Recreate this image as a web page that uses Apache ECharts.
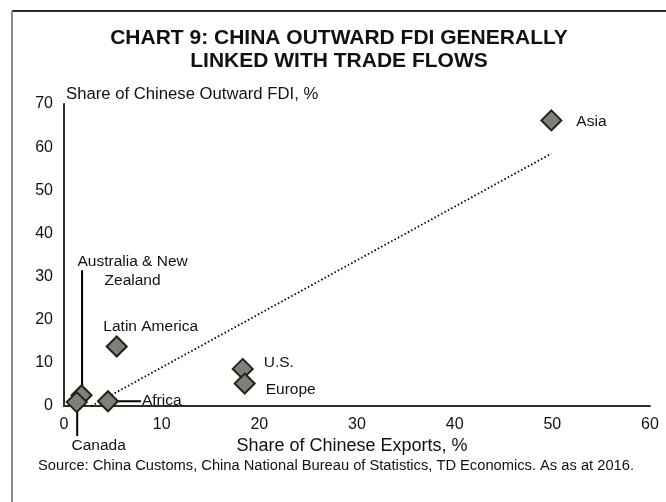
<!DOCTYPE html>
<html>
<head>
<meta charset="utf-8">
<script src="https://cdn.jsdelivr.net/npm/echarts@6/dist/echarts.min.js"></script>
<style>
  html, body { margin: 0; padding: 0; background: #ffffff; }
  #chart { width: 666px; height: 502px; }
</style>
</head>
<body>
<div id="chart"></div>
<script>
// Regions: share of Chinese exports (x) vs share of Chinese outward FDI (y), %
const regions = ['Asia', 'Latin America', 'Australia & New Zealand', 'Canada', 'Africa', 'U.S.', 'Europe'];
const exportShare = [49.9, 5.4, 1.8, 1.3, 4.5, 18.3, 18.5];
const fdiShare = [66.2, 13.8, 2.5, 0.9, 1.1, 8.6, 5.2];

// Dotted trend line end points
const trendExports = [2.8, 49.9];
const trendFdi = [0, 58.5];

// Axis ranges
const xMin = 0, xMax = 60, xStep = 10;
const yMin = 0, yMax = 70, yStep = 10;

const FONT = '"Liberation Sans", Arial, sans-serif';
const INK = '#111111';
const AXIS = '#2b3222';
const MARK = 20; // diamond size in px

// Label placement relative to each marker's centre (pixels)
const labelStyle = {
  'Asia': { text: 'Asia', align: 'left', offset: [26, 2] },
  'Latin America': { text: 'Latin America', align: 'center', offset: [35, -19] },
  'Australia & New Zealand': { text: 'Australia & New\nZealand', align: 'center', offset: [52, -123] },
  'Canada': { text: 'Canada', align: 'center', offset: [23, 45] },
  'Africa': { text: 'Africa', align: 'left', offset: [35, 0] },
  'U.S.': { text: 'U.S.', align: 'left', offset: [22, -5] },
  'Europe': { text: 'Europe', align: 'left', offset: [22, 7] }
};

// Leader lines, given as pixel offsets from the marker centre
const leaders = {
  'Australia & New Zealand': [[0.5, -8], [0.5, -125]],
  'Canada': [[0.5, 4], [0.5, 34]],
  'Africa': [[10, 0], [33, 0]]
};

const points = regions.map((name, i) => {
  const s = labelStyle[name];
  return {
    name: name,
    value: [exportShare[i], fdiShare[i]],
    label: {
      show: true,
      formatter: s.text,
      // anchor at the symbol centre, then shift
      position: [MARK / 2 + s.offset[0], MARK / 2 + s.offset[1]],
      align: s.align,
      verticalAlign: 'middle',
      color: INK,
      fontFamily: FONT,
      fontSize: 15.5,
      lineHeight: 19
    }
  };
});

const chart = echarts.init(document.getElementById('chart'), null, { renderer: 'canvas' });

const option = {
  backgroundColor: '#ffffff',
  animation: false,
  grid: { left: 64, right: 16, top: 104, bottom: 96, containLabel: false },
  xAxis: {
    type: 'value', min: xMin, max: xMax, interval: xStep,
    axisLine: { show: true, onZero: false, lineStyle: { color: AXIS, width: 2 } },
    axisTick: { show: false },
    splitLine: { show: false },
    axisLabel: { color: INK, fontFamily: FONT, fontSize: 16, margin: 11 }
  },
  yAxis: {
    type: 'value', min: yMin, max: yMax, interval: yStep,
    axisLine: { show: true, onZero: false, lineStyle: { color: AXIS, width: 2 } },
    axisTick: { show: false },
    splitLine: { show: false },
    axisLabel: { color: INK, fontFamily: FONT, fontSize: 16, margin: 11 }
  },
  series: [
    {
      type: 'line',
      data: trendExports.map((x, i) => [x, trendFdi[i]]),
      symbol: 'none',
      lineStyle: { color: '#000000', width: 1.8, type: [1.5, 2.3] },
      z: 2,
      silent: true
    },
    {
      type: 'scatter',
      data: points,
      symbol: 'diamond',
      symbolSize: [MARK, MARK],
      itemStyle: { color: '#7f7f7f', borderColor: '#1f2612', borderWidth: 2, opacity: 1 },
      z: 3
    }
  ],
  graphic: [
    // frame
    { type: 'line', shape: { x1: 12, y1: 11, x2: 666, y2: 11 }, style: { stroke: '#2a2a2a', lineWidth: 2 } },
    { type: 'line', shape: { x1: 12, y1: 11, x2: 12, y2: 502 }, style: { stroke: '#8c8c8c', lineWidth: 2 } },
    // heading
    { type: 'text', x: 339, y: 38, style: { text: 'CHART 9: CHINA OUTWARD FDI GENERALLY', fill: INK, font: 'bold 21px ' + FONT, textAlign: 'center', textVerticalAlign: 'middle' } },
    { type: 'text', x: 339, y: 61, style: { text: 'LINKED WITH TRADE FLOWS', fill: INK, font: 'bold 21px ' + FONT, textAlign: 'center', textVerticalAlign: 'middle' } },
    // axis titles
    { type: 'text', x: 66, y: 94, style: { text: 'Share of Chinese Outward FDI, %', fill: INK, font: '16.7px ' + FONT, textAlign: 'left', textVerticalAlign: 'middle' } },
    { type: 'text', x: 352, y: 446, style: { text: 'Share of Chinese Exports, %', fill: INK, font: '18px ' + FONT, textAlign: 'center', textVerticalAlign: 'middle' } },
    // source note
    { type: 'text', x: 336, y: 466, style: { text: 'Source: China Customs, China National Bureau of Statistics, TD Economics. As as at 2016.', fill: INK, font: '14.7px ' + FONT, textAlign: 'center', textVerticalAlign: 'middle' } }
  ]
};

chart.setOption(option);

// Leader lines placed from each marker's pixel position
const leaderGraphics = [];
regions.forEach((name, i) => {
  const seg = leaders[name];
  if (!seg) return;
  const c = chart.convertToPixel({ seriesIndex: 1 }, [exportShare[i], fdiShare[i]]);
  leaderGraphics.push({
    type: 'line',
    z: 1,
    shape: { x1: c[0] + seg[0][0], y1: c[1] + seg[0][1], x2: c[0] + seg[1][0], y2: c[1] + seg[1][1] },
    style: { stroke: '#000000', lineWidth: 2 }
  });
});
chart.setOption({ graphic: option.graphic.concat(leaderGraphics) });
</script>
</body>
</html>
